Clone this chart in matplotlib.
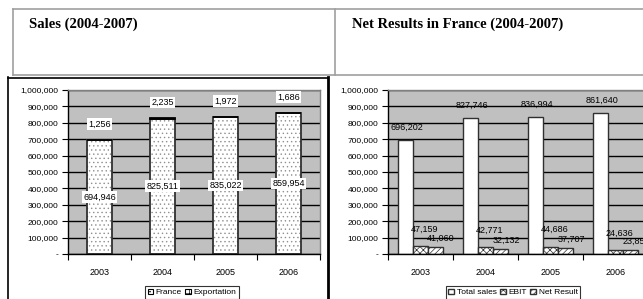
import matplotlib
matplotlib.use('Agg')
from matplotlib import pyplot as plt
from matplotlib.patches import Patch
from matplotlib.ticker import FuncFormatter
import numpy as np

years = ['2003', '2004', '2005', '2006']
france = [694946, 825511, 835022, 859954]
export = [1256, 2235, 1972, 1686]
total_sales = [696202, 827746, 836994, 861640]
ebit = [47159, 42771, 44686, 24636]
net_result = [41060, 32132, 37707, 23855]

plt.rcParams['font.family'] = ['Liberation Sans', 'DejaVu Sans']
plt.rcParams['hatch.linewidth'] = 0.5

W, H = 643, 299
fig = plt.figure(figsize=(W / 100, H / 100), dpi=100)

# background frame lines in pixel coordinates
bg = fig.add_axes([0, 0, 1, 1], zorder=0)
bg.set_xlim(0, W)
bg.set_ylim(H, 0)
bg.axis('off')
grey = '#a0a0a0'
bg.plot([13, 660], [9, 9], color=grey, lw=1.2)
bg.plot([13, 660], [75, 75], color=grey, lw=1.2)
bg.plot([13, 13], [9, 75], color=grey, lw=1.2)
bg.plot([335, 335], [9, 75], color=grey, lw=1.2)
bg.plot([8, 328], [77.5, 77.5], color='black', lw=1.2)
bg.plot([8, 8], [77, 300], color='black', lw=1.2)
bg.plot([328, 328], [77, 300], color='black', lw=2)
bg.text(29, 24, 'Sales (2004-2007)', family='Liberation Serif', weight='bold',
        fontsize=10.5, va='center', ha='left')
bg.text(352, 24, 'Net Results in France (2004-2007)', family='Liberation Serif',
        weight='bold', fontsize=10.5, va='center', ha='left')


def fmt(v, pos=None):
    return '-' if v == 0 else '{:,.0f}'.format(v)


def style_axes(ax):
    ax.set_facecolor('#c0c0c0')
    ax.set_xlim(-0.5, 3.5)
    ax.set_ylim(0, 1000000)
    ax.set_yticks(np.arange(0, 1000001, 100000))
    ax.yaxis.set_major_formatter(FuncFormatter(fmt))
    ax.yaxis.grid(True, color='black', lw=1)
    ax.set_axisbelow(True)
    ax.set_xticks([-0.5, 0.5, 1.5, 2.5, 3.5])
    ax.set_xticklabels([])
    ax.set_xticks(range(4), minor=True)
    ax.set_xticklabels(years, minor=True)
    ax.tick_params(axis='x', which='minor', length=0, pad=10, labelsize=6.5)
    ax.tick_params(axis='x', which='major', length=4, width=0.8, direction='out')
    ax.tick_params(axis='y', length=4, width=0.8, labelsize=6, pad=3)
    for s in ['top', 'right']:
        ax.spines[s].set_color('#808080')
        ax.spines[s].set_linewidth(1)
    for s in ['left', 'bottom']:
        ax.spines[s].set_color('black')
        ax.spines[s].set_linewidth(1)


box = dict(boxstyle='square,pad=0.15', fc='white', ec='none')

# left chart: sales
ax1 = fig.add_axes([68 / W, 1 - 254 / H, 252 / W, 164 / H], zorder=1)
style_axes(ax1)
x = np.arange(4)
# dotted fill in grey, then the dark outline on top
ax1.bar(x, france, 0.41, color='white', edgecolor='#909090', lw=0,
        hatch='....')
ax1.bar(x, france, 0.41, fill=False, edgecolor='#303030', lw=1.3)
ax1.bar(x, export, 0.41, bottom=france, color='white', edgecolor='black',
        lw=1.3, hatch='++++')
for i in range(4):
    ax1.text(x[i], france[i] / 2, fmt(france[i]), ha='center', va='center',
             fontsize=6.5, bbox=box)
    ax1.annotate(fmt(export[i]), (x[i], france[i] + export[i]),
                 xytext=(0, 8), textcoords='offset points', ha='center',
                 va='bottom', fontsize=6.5, bbox=box)
h1 = [Patch(facecolor='white', edgecolor='black', hatch='....', lw=0.8),
      Patch(facecolor='white', edgecolor='black', hatch='++++', lw=0.8)]
lab1 = ['France', 'Exportation']

# right chart: net results
ax2 = fig.add_axes([388 / W, 1 - 254 / H, 260 / W, 164 / H], zorder=1)
style_axes(ax2)
bw = 0.23
ax2.bar(x - bw, total_sales, bw, color='white', edgecolor='#303030', lw=1,
        label='Total sales')
ax2.bar(x, ebit, bw, color='white', edgecolor='#303030', lw=1,
        hatch='xxxxx', label='EBIT')
ax2.bar(x + bw, net_result, bw, color='white', edgecolor='#303030', lw=1,
        hatch='//////', label='Net Result')
for i in range(4):
    ax2.annotate(fmt(total_sales[i]), (x[i] - bw, total_sales[i]),
                 xytext=(1, 6), textcoords='offset points', ha='center',
                 va='bottom', fontsize=6.5)
    ax2.annotate(fmt(ebit[i]), (x[i], ebit[i]), xytext=(3, 9),
                 textcoords='offset points', ha='center', va='bottom',
                 fontsize=6.5)
    ax2.annotate(fmt(net_result[i]), (x[i] + bw, net_result[i]),
                 xytext=(4, 3), textcoords='offset points', ha='center',
                 va='bottom', fontsize=6.5)

leg_kw = dict(loc='upper center', ncol=3, fontsize=6, frameon=True,
              fancybox=False, edgecolor='black', handlelength=0.7,
              handleheight=0.7, handletextpad=0.3, columnspacing=0.4,
              borderpad=0.3, borderaxespad=0)
l1 = fig.legend(h1, lab1, bbox_to_anchor=(192 / W, 1 - 286 / H), **leg_kw)
l1.get_frame().set_linewidth(0.8)
l2 = fig.legend(*ax2.get_legend_handles_labels(),
                bbox_to_anchor=(513 / W, 1 - 286 / H), **leg_kw)
l2.get_frame().set_linewidth(0.8)

fig.savefig('out.png', dpi=100)
